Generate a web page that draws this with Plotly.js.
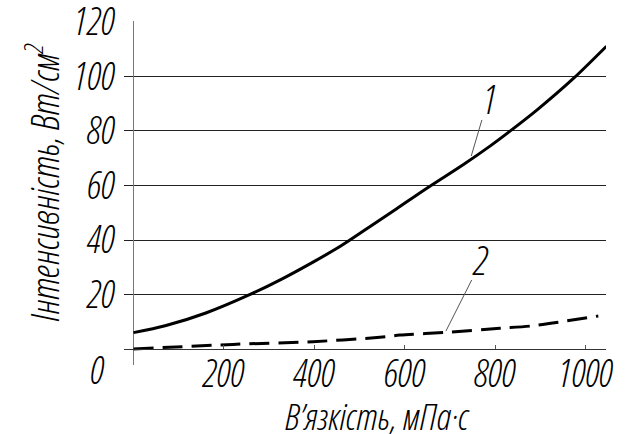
<!DOCTYPE html>
<html>
<head>
<meta charset="utf-8">
<script src="https://cdn.plot.ly/plotly-3.0.1.min.js"></script>
<style>
html,body{margin:0;padding:0;background:#fff;}
#chart{width:632px;height:434px;}
#chart svg text{font-stretch:75% !important;}
</style>
</head>
<body>
<div id="chart"></div>
<script>
// Curve 1 (solid)
const viscosity1 = [0, 70, 160, 258, 330, 400, 460, 520, 582, 648, 729, 790, 832, 892, 973, 1046];
const intensity1 = [6.1, 8.6, 13.3, 20.1, 25.9, 32.2, 38.0, 44.6, 51.5, 58.9, 67.6, 74.6, 79.8, 87.6, 99.2, 111.0];
// Curve 2 (dashed)
const viscosity2 = [0, 220, 397, 545, 589, 693, 810, 877, 1028];
const intensity2 = [0.1, 1.8, 2.8, 4.4, 5.2, 6.2, 7.7, 8.5, 12.2];
// Axis ticks
const xTicks = [200, 400, 600, 800, 1000];
const xTickText = ['200', '400', '600', '800', '1000'];
const yTicks = [20, 40, 60, 80, 100, 120];
const yTickText = ['20', '40', '60', '80', '100', '120'];
// Curve labels and leader lines: [labelX, labelY, lineX0, lineY0, lineX1, lineY1]
const curveLabels = ['1', '2'];
const labelPos = [[788, 91.8, 770.5, 84, 747, 70.8], [768, 32.9, 748, 25.4, 691, 6.7]];
// Axis titles
const xTitle = 'В\u2019язкість, мПа·с';
const yTitle = 'Інтенсивність, Вт/см<sup>2</sup>';

const FONT = "Open Sans, DejaVu Sans Condensed, sans-serif";
const f = (s) => ({family: FONT, size: s, color: '#000', style: 'italic', weight: 300});

const traces = [
  {x: viscosity1, y: intensity1, mode: 'lines', line: {color: '#000', width: 3, shape: 'spline', smoothing: 0.8}, showlegend: false, hoverinfo: 'skip'},
  {x: viscosity2, y: intensity2, mode: 'lines', line: {color: '#000', width: 3, shape: 'spline', smoothing: 0.8, dash: '20px,9px'}, showlegend: false, hoverinfo: 'skip'}
];

const annotations = curveLabels.map((t, i) => ({
  text: t, x: labelPos[i][0], y: labelPos[i][1], xref: 'x', yref: 'y',
  showarrow: false, font: f(40), xanchor: 'center', yanchor: 'middle'
}));
annotations.push({text: '0', xref: 'paper', yref: 'y', x: -0.03, y: 0, yshift: -20,
  xanchor: 'right', yanchor: 'middle', showarrow: false, font: f(38)});
// axis titles, placed as annotations for exact positioning
annotations.push({text: yTitle, xref: 'paper', yref: 'paper',
  x: -0.168, y: 0.53, xanchor: 'center', yanchor: 'middle', textangle: -90,
  showarrow: false, font: f(38)});
annotations.push({text: xTitle, xref: 'paper', yref: 'paper',
  x: 0.525, y: -0.147, xanchor: 'center', yanchor: 'middle',
  showarrow: false, font: f(37)});

const shapes = curveLabels.map((t, i) => ({
  type: 'line', xref: 'x', yref: 'y',
  x0: labelPos[i][2], y0: labelPos[i][3], x1: labelPos[i][4], y1: labelPos[i][5],
  line: {color: '#555', width: 1}
}));

const layout = {
  width: 632, height: 434,
  margin: {l: 124, r: 26, t: 21, b: 69},
  paper_bgcolor: '#fff', plot_bgcolor: '#fff',
  font: f(38),
  xaxis: {
    range: [-21, 1045], tickvals: xTicks, ticktext: xTickText,
    showgrid: false, zeroline: true, zerolinecolor: '#777', zerolinewidth: 1,
    anchor: 'free', position: 0.0456,
    showline: true, linecolor: '#333', linewidth: 1,
    ticks: 'inside', ticklen: 4, tickcolor: '#555', tickwidth: 1,
    tickfont: f(38), ticklabelstandoff: -9, ticklabeloverflow: 'allow',
    fixedrange: true
  },
  yaxis: {
    range: [-5.75, 120.25], tickvals: yTicks, ticktext: yTickText,
    showgrid: true, gridcolor: '#222', gridwidth: 1,
    zeroline: false, showline: false, ticks: '',
    tickfont: f(38), ticklabelstandoff: 8, ticklabeloverflow: 'allow',
    fixedrange: true
  },
  annotations: annotations,
  shapes: shapes
};

Plotly.newPlot('chart', traces, layout, {displayModeBar: false, staticPlot: true});
</script>
</body>
</html>
